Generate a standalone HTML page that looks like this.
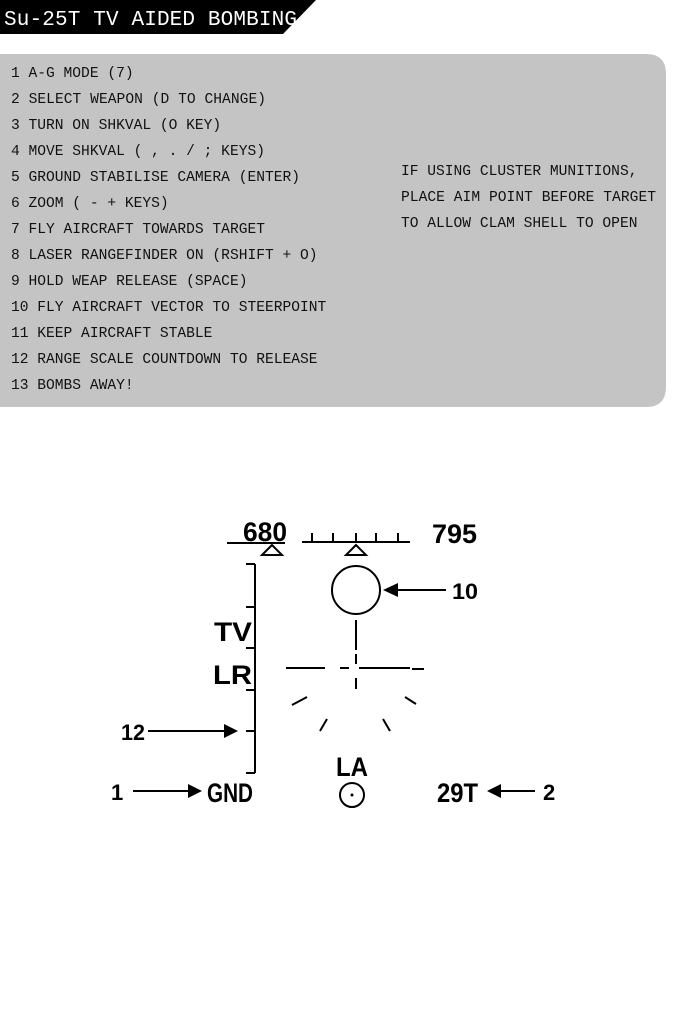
<!DOCTYPE html>
<html><head><meta charset="utf-8"><style>
html,body{margin:0;padding:0;background:#fff;}
svg{display:block}
.m{font-family:"Liberation Mono",monospace;font-size:14.6px;fill:#111}
.h{font-family:"Liberation Sans",sans-serif;font-weight:bold;fill:#000}
</style></head><body>
<svg width="683" height="1024" viewBox="0 0 683 1024" xmlns="http://www.w3.org/2000/svg">
<polygon points="0,0 316,0 283,34 0,34" fill="#000"/>
<text x="4" y="25" font-family="Liberation Mono,monospace" font-size="21" fill="#fff" textLength="293">Su-25T TV AIDED BOMBING</text>
<path d="M0,54 H646 Q666,54 666,74 V387 Q666,407 646,407 H0 Z" fill="#c4c4c4"/>
<g class="m">
<text x="11" y="77">1 A-G MODE (7)</text>
<text x="11" y="103" textLength="255">2 SELECT WEAPON (D TO CHANGE)</text>
<text x="11" y="129">3 TURN ON SHKVAL (O KEY)</text>
<text x="11" y="155">4 MOVE SHKVAL ( , . / ; KEYS)</text>
<text x="11" y="181">5 GROUND STABILISE CAMERA (ENTER)</text>
<text x="11" y="207">6 ZOOM ( - + KEYS)</text>
<text x="11" y="233">7 FLY AIRCRAFT TOWARDS TARGET</text>
<text x="11" y="259">8 LASER RANGEFINDER ON (RSHIFT + O)</text>
<text x="11" y="285">9 HOLD WEAP RELEASE (SPACE)</text>
<text x="11" y="311">10 FLY AIRCRAFT VECTOR TO STEERPOINT</text>
<text x="11" y="337">11 KEEP AIRCRAFT STABLE</text>
<text x="11" y="363">12 RANGE SCALE COUNTDOWN TO RELEASE</text>
<text x="11" y="389">13 BOMBS AWAY!</text>
<text x="401" y="175">IF USING CLUSTER MUNITIONS,</text>
<text x="401" y="201" textLength="255">PLACE AIM POINT BEFORE TARGET</text>
<text x="401" y="227">TO ALLOW CLAM SHELL TO OPEN</text>
</g>
<g stroke="#000" stroke-width="2" fill="none">
<line x1="227" y1="543" x2="285" y2="543"/>
<polygon points="272,545 262,555 282,555"/>
<polygon points="356,545 346,555 366,555"/>
<line x1="302" y1="542" x2="410" y2="542"/>
<line x1="312" y1="542" x2="312" y2="533"/>
<line x1="333" y1="542" x2="333" y2="533"/>
<line x1="356" y1="542" x2="356" y2="533"/>
<line x1="376" y1="542" x2="376" y2="533"/>
<line x1="398" y1="542" x2="398" y2="533"/>
<line x1="255" y1="564" x2="255" y2="773"/>
<line x1="246" y1="564" x2="255" y2="564"/>
<line x1="246" y1="607" x2="255" y2="607"/>
<line x1="246" y1="648" x2="255" y2="648"/>
<line x1="246" y1="690" x2="255" y2="690"/>
<line x1="246" y1="731" x2="255" y2="731"/>
<line x1="246" y1="773" x2="255" y2="773"/>
<circle cx="356" cy="590" r="24"/>
<line x1="385" y1="590" x2="446" y2="590"/>
<line x1="356" y1="620" x2="356" y2="650"/>
<line x1="356" y1="654" x2="356" y2="664"/>
<line x1="356" y1="678" x2="356" y2="689"/>
<line x1="286" y1="668" x2="325" y2="668"/>
<line x1="340" y1="668" x2="349" y2="668"/>
<line x1="359" y1="668" x2="410" y2="668"/>
<line x1="412" y1="669" x2="424" y2="669"/>
<line x1="292" y1="705" x2="307" y2="697"/>
<line x1="320" y1="731" x2="327" y2="719"/>
<line x1="383" y1="719" x2="390" y2="731"/>
<line x1="405" y1="697" x2="416" y2="704"/>
<line x1="148" y1="731" x2="228" y2="731"/>
<circle cx="352" cy="795" r="12"/>
<line x1="133" y1="791" x2="192" y2="791"/>
<line x1="496" y1="791" x2="535" y2="791"/>
</g>
<circle cx="352" cy="795" r="1.5" fill="#000"/>
<polygon points="383,590 398,583 398,597" fill="#000"/>
<polygon points="238,731 224,724 224,738" fill="#000"/>
<polygon points="202,791 188,784 188,798" fill="#000"/>
<polygon points="487,791 501,784 501,798" fill="#000"/>
<g class="h">
<text x="243" y="541" font-size="27" textLength="44" lengthAdjust="spacingAndGlyphs">680</text>
<text x="432" y="543" font-size="27" textLength="45" lengthAdjust="spacingAndGlyphs">795</text>
<text x="452" y="599" font-size="22" textLength="26" lengthAdjust="spacingAndGlyphs">10</text>
<text x="214" y="641" font-size="27" textLength="38" lengthAdjust="spacingAndGlyphs">TV</text>
<text x="213" y="684" font-size="27" textLength="39" lengthAdjust="spacingAndGlyphs">LR</text>
<text x="121" y="740" font-size="22" textLength="24" lengthAdjust="spacingAndGlyphs">12</text>
<text x="336" y="776" font-size="27" textLength="32" lengthAdjust="spacingAndGlyphs">LA</text>
<text x="111" y="800" font-size="22">1</text>
<text x="207" y="802" font-size="27" textLength="46" lengthAdjust="spacingAndGlyphs">GND</text>
<text x="437" y="802" font-size="27" textLength="41" lengthAdjust="spacingAndGlyphs">29T</text>
<text x="543" y="800" font-size="22">2</text>
</g>
</svg>
</body></html>
